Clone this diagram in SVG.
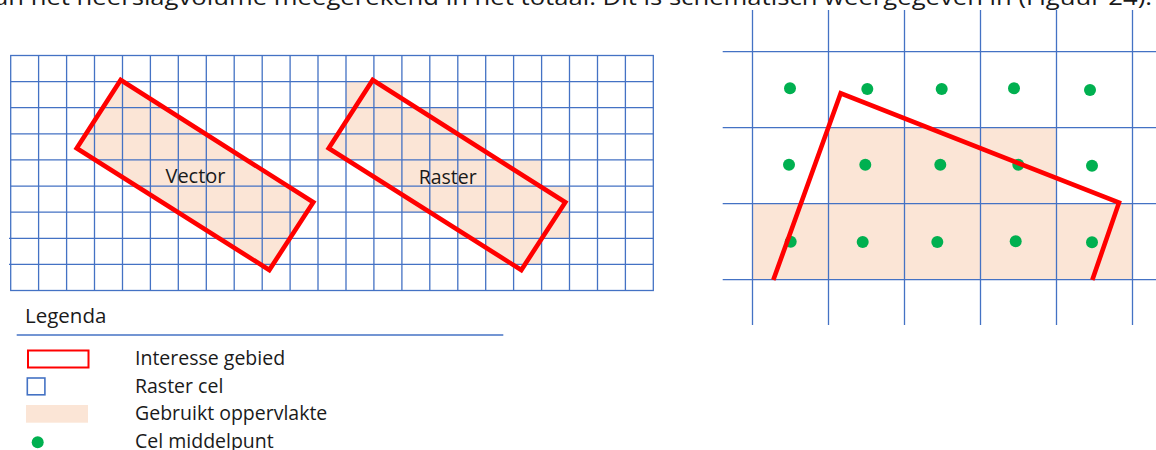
<svg xmlns="http://www.w3.org/2000/svg" width="1156" height="450" viewBox="0 0 1156 450">
<defs>
<style>
.txt{font-family:"Open Sans","Liberation Sans",sans-serif;fill:#1a1a1a}
.grid{stroke:#4472C4;stroke-width:1.3;fill:none}
.fillc{fill:#FBE5D6;stroke:none}
.roi{fill:none;stroke:#FF0000;stroke-width:4.6;stroke-linejoin:miter}
.dot{fill:#00B050}
</style>
</defs>
<rect width="1156" height="450" fill="#ffffff"/>
<text class="txt" x="-6" y="4.5" font-size="21" textLength="1158" lengthAdjust="spacingAndGlyphs">an het neerslagvolume meegerekend in het totaal. Dit is schematisch weergegeven in (Figuur 24).</text>

<g id="vector-panel">
<polygon class="fillc" points="120.7,80 313.3,202.3 269.3,270 76.7,148.3"/>
</g>

<g id="raster-panel-fill">
<rect class="fillc" x="346.0" y="81.6" width="55.9" height="26.1"/>
<rect class="fillc" x="346.0" y="107.7" width="111.8" height="26.1"/>
<rect class="fillc" x="318.0" y="133.8" width="167.6" height="26.1"/>
<rect class="fillc" x="373.9" y="159.9" width="167.7" height="26.2"/>
<rect class="fillc" x="401.9" y="186.1" width="167.6" height="26.1"/>
<rect class="fillc" x="457.8" y="212.2" width="111.7" height="26.1"/>
<rect class="fillc" x="485.6" y="238.3" width="55.9" height="26.1"/>
</g>

<g id="left-grid" class="grid">
<rect x="10.7" y="55.5" width="642.6" height="235"/>
<path d="M38.6 55.5V290.5M66.6 55.5V290.5M94.5 55.5V290.5M122.5 55.5V290.5M150.4 55.5V290.5M178.3 55.5V290.5M206.3 55.5V290.5M234.2 55.5V290.5M262.2 55.5V290.5M290.1 55.5V290.5M318.0 55.5V290.5M346.0 55.5V290.5M373.9 55.5V290.5M401.9 55.5V290.5M429.8 55.5V290.5M457.8 55.5V290.5M485.7 55.5V290.5M513.6 55.5V290.5M541.6 55.5V290.5M569.5 55.5V290.5M597.5 55.5V290.5M625.4 55.5V290.5"/>
<path d="M10.7 81.6H653.3M10.7 107.7H653.3M10.7 133.8H653.3M10.7 159.9H653.3M10.7 186.1H653.3M10.7 212.2H653.3M9 238.3H653.3M9 264.4H653.3"/>
</g>

<g id="vector-outline">
<polygon class="roi" points="120.7,80 313.3,202.3 269.3,270 76.7,148.3"/>
<text class="txt" x="195.5" y="182.5" font-size="20" text-anchor="middle">Vector</text>
</g>

<g id="raster-outline">
<polygon class="roi" points="372.7,80 565.3,202.3 521.3,270 328.7,148.3"/>
<text class="txt" x="447.7" y="184" font-size="19.5" text-anchor="middle">Raster</text>
</g>

<g id="right-panel">
<rect class="fillc" x="828.5" y="127.7" width="228" height="76"/>
<rect class="fillc" x="752.5" y="203.7" width="380" height="76"/>
<g class="grid">
<path d="M752.5 10V325M828.5 10V325M904.5 10V325M980.5 10V325M1056.5 10V325M1132.5 10V325"/>
<path d="M722.7 51.7H1156M722.7 127.7H1156M722.7 203.7H1156M722.7 279.7H1156"/>
</g>
<g id="centers">
<circle class="dot" cx="790" cy="88.3" r="6"/>
<circle class="dot" cx="867.3" cy="89" r="6"/>
<circle class="dot" cx="941.7" cy="89" r="6"/>
<circle class="dot" cx="1014" cy="88.3" r="6"/>
<circle class="dot" cx="1090" cy="90" r="6"/>
<circle class="dot" cx="789" cy="164.7" r="6"/>
<circle class="dot" cx="865.3" cy="164.7" r="6"/>
<circle class="dot" cx="940.3" cy="164.7" r="6"/>
<circle class="dot" cx="1018.3" cy="164.7" r="6"/>
<circle class="dot" cx="1092" cy="165.7" r="6"/>
<circle class="dot" cx="790.7" cy="241.7" r="6"/>
<circle class="dot" cx="862.7" cy="242" r="6"/>
<circle class="dot" cx="937.3" cy="242" r="6"/>
<circle class="dot" cx="1015.7" cy="241.3" r="6"/>
<circle class="dot" cx="1092" cy="242.3" r="6"/>
</g>
<polyline class="roi" points="773.3,280 840.7,93.3 1119,202.7 1092.3,280"/>
</g>

<g id="legend">
<text class="txt" x="25" y="323.3" font-size="20.5">Legenda</text>
<line x1="16.7" y1="335" x2="503.3" y2="335" stroke="#4472C4" stroke-width="1.5"/>
<g id="legend-interesse">
<rect x="28" y="350.5" width="60.5" height="17" fill="none" stroke="#FF0000" stroke-width="2"/>
<text class="txt" x="135" y="365" font-size="19.5">Interesse gebied</text>
</g>
<g id="legend-raster">
<rect x="27.3" y="378" width="17.6" height="16.8" fill="none" stroke="#4472C4" stroke-width="1.6"/>
<text class="txt" x="135" y="393.3" font-size="19.5">Raster cel</text>
</g>
<g id="legend-gebruikt">
<rect class="fillc" x="26" y="405" width="62" height="17.7"/>
<text class="txt" x="135" y="420.3" font-size="19.5">Gebruikt oppervlakte</text>
</g>
<g id="legend-middelpunt">
<circle class="dot" cx="37.7" cy="442.3" r="6"/>
<text class="txt" x="135" y="447.8" font-size="19.5">Cel middelpunt</text>
</g>
</g>
</svg>
